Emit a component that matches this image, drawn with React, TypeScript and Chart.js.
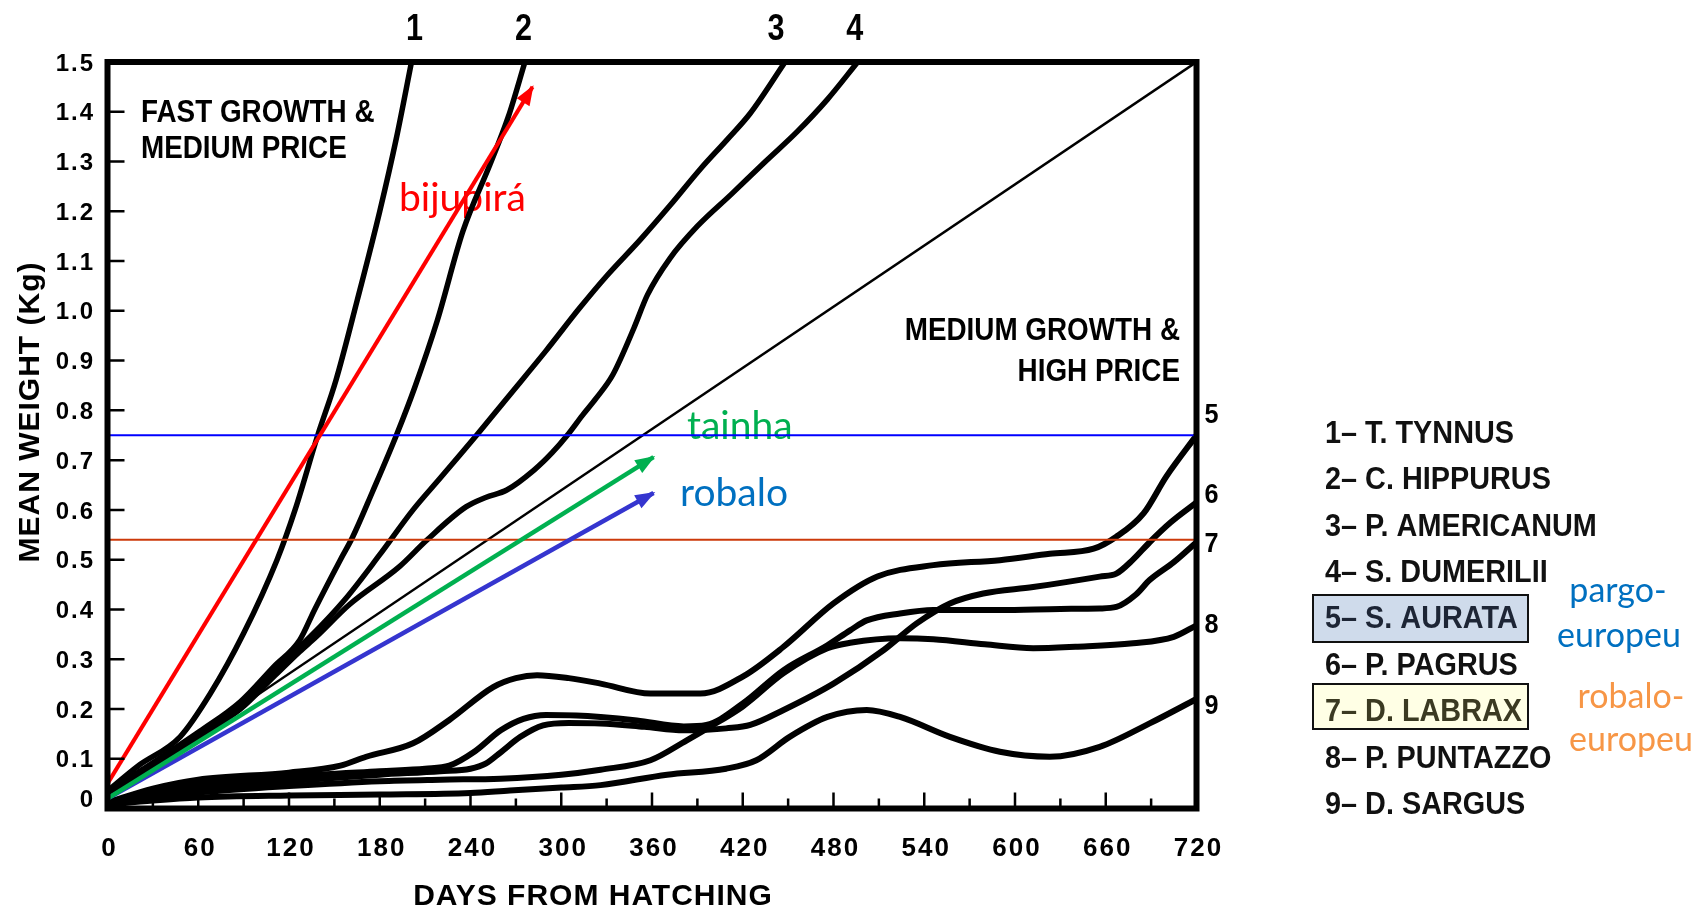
import React, { useEffect, useRef } from "react";
import { Chart, registerables } from "chart.js";

Chart.register(...registerables);

type Pt = [number, number];

// ---------- axis ticks ----------
const xTickDays = [0, 60, 120, 180, 240, 300, 360, 420, 480, 540, 600, 660, 720];
const yTickWeights = [0, 0.1, 0.2, 0.3, 0.4, 0.5, 0.6, 0.7, 0.8, 0.9, 1.0, 1.1, 1.2, 1.3, 1.4, 1.5];
const yTickLabels = ["0", "0.1", "0.2", "0.3", "0.4", "0.5", "0.6", "0.7", "0.8", "0.9", "1.0", "1.1", "1.2", "1.3", "1.4", "1.5"];

// ---------- growth curves (day, kg) ----------
const tThynnus: Pt[] = [[0, 0.035], [20, 0.085], [48, 0.144], [68, 0.231], [90, 0.352], [112, 0.499], [124, 0.6], [139, 0.75], [151, 0.86], [165, 1.02], [180, 1.2], [191, 1.347], [201, 1.5]];
const cHippurus: Pt[] = [[0, 0.032], [20, 0.072], [40, 0.112], [61, 0.155], [88, 0.215], [110, 0.285], [127, 0.338], [137, 0.4], [154, 0.5], [162, 0.545], [175, 0.635], [191, 0.75], [203, 0.845], [218, 0.98], [235, 1.16], [253, 1.295], [265, 1.39], [276, 1.5]];
const pAmericanum: Pt[] = [[0, 0.03], [20, 0.068], [40, 0.106], [61, 0.15], [88, 0.207], [110, 0.275], [127, 0.325], [134, 0.345], [157, 0.42], [180, 0.51], [202, 0.6], [220, 0.664], [244, 0.75], [264, 0.824], [290, 0.92], [312, 1.005], [330, 1.07], [352, 1.142], [372, 1.212], [392, 1.285], [410, 1.345], [425, 1.397], [448, 1.5]];
const sDumerilii: Pt[] = [[0, 0.028], [20, 0.064], [40, 0.1], [61, 0.145], [88, 0.2], [110, 0.265], [127, 0.315], [138, 0.345], [160, 0.41], [193, 0.486], [211, 0.539], [237, 0.606], [250, 0.625], [264, 0.64], [282, 0.68], [294, 0.715], [304, 0.75], [314, 0.79], [323, 0.824], [334, 0.871], [348, 0.965], [357, 1.032], [372, 1.106], [390, 1.17], [412, 1.233], [435, 1.3], [456, 1.36], [476, 1.425], [496, 1.5]];
const sAurata: Pt[] = [[0, 0.012], [30, 0.04], [60, 0.058], [120, 0.072], [154, 0.086], [171, 0.104], [202, 0.131], [226, 0.178], [255, 0.244], [270, 0.262], [284, 0.268], [305, 0.262], [326, 0.251], [359, 0.231], [392, 0.231], [420, 0.265], [447, 0.325], [480, 0.412], [509, 0.466], [546, 0.489], [590, 0.499], [623, 0.512], [652, 0.522], [667, 0.546], [685, 0.593], [700, 0.667], [720, 0.75]];
const pPagrus: Pt[] = [[0, 0.012], [30, 0.028], [60, 0.04], [120, 0.055], [180, 0.068], [220, 0.075], [240, 0.08], [250, 0.09], [260, 0.113], [273, 0.144], [288, 0.167], [305, 0.172], [326, 0.171], [355, 0.164], [381, 0.157], [396, 0.158], [409, 0.161], [425, 0.168], [447, 0.198], [480, 0.251], [513, 0.318], [535, 0.372], [557, 0.412], [579, 0.432], [612, 0.445], [656, 0.466], [667, 0.472], [678, 0.5], [689, 0.535], [703, 0.575], [720, 0.615]];
const dLabrax: Pt[] = [[0, 0.012], [30, 0.032], [60, 0.048], [120, 0.064], [180, 0.075], [210, 0.08], [226, 0.086], [243, 0.115], [260, 0.157], [275, 0.18], [290, 0.188], [310, 0.187], [326, 0.184], [350, 0.177], [381, 0.165], [396, 0.168], [420, 0.211], [447, 0.278], [476, 0.328], [491, 0.358], [502, 0.378], [524, 0.392], [546, 0.399], [590, 0.399], [630, 0.401], [656, 0.402], [667, 0.405], [680, 0.43], [689, 0.459], [705, 0.495], [720, 0.535]];
const pPuntazzo: Pt[] = [[0, 0.01], [30, 0.022], [60, 0.032], [120, 0.045], [180, 0.055], [220, 0.058], [260, 0.06], [300, 0.068], [326, 0.078], [359, 0.097], [383, 0.137], [396, 0.16], [420, 0.205], [447, 0.272], [476, 0.322], [491, 0.333], [524, 0.342], [546, 0.34], [580, 0.33], [612, 0.322], [640, 0.325], [678, 0.332], [705, 0.345], [720, 0.368]];
const dSargus: Pt[] = [[0, 0.008], [30, 0.016], [60, 0.022], [120, 0.026], [180, 0.028], [240, 0.031], [266, 0.036], [300, 0.042], [326, 0.047], [370, 0.068], [409, 0.08], [429, 0.097], [451, 0.144], [476, 0.184], [502, 0.198], [524, 0.184], [557, 0.144], [590, 0.114], [623, 0.104], [656, 0.124], [689, 0.171], [720, 0.22]];

// thin separating diagonal
const dividerLine: Pt[] = [[0, 0.025], [720, 1.5]];

// coloured arrows
const bijupiraArrow: Pt[] = [[0, 0.05], [281, 1.45]];
const tainhaArrow: Pt[] = [[0, 0.02], [361, 0.706]];
const robaloArrow: Pt[] = [[0, 0.02], [361, 0.634]];

// horizontal reference levels (kg)
const blueLevel: Pt[] = [[0, 0.75], [720, 0.75]];
const redLevel: Pt[] = [[0, 0.54], [720, 0.54]];

// curve number labels
const topLabels = ["1", "2", "3", "4"];
const topLabelDays = [203, 275, 442, 494];
const rightLabels = ["5", "6", "7", "8", "9"];
const rightLabelWeights = [0.795, 0.634, 0.535, 0.373, 0.21];

const speciesList = [
  "1\u2013 T. TYNNUS",
  "2\u2013 C. HIPPURUS",
  "3\u2013 P. AMERICANUM",
  "4\u2013 S. DUMERILII",
  "5\u2013 S. AURATA",
  "6\u2013 P. PAGRUS",
  "7\u2013 D. LABRAX",
  "8\u2013 P. PUNTAZZO",
  "9\u2013 D. SARGUS",
];

const BOLD = '"Liberation Sans", Arial, Helvetica, sans-serif';
const SOFT = 'Lato, "Open Sans", "Noto Sans", sans-serif';

type TxtOpts = {
  font: string;
  color?: string;
  align?: CanvasTextAlign;
  baseline?: CanvasTextBaseline;
  scaleX?: number;
  spacing?: number;
  rotate?: number;
};

function txt(ctx: CanvasRenderingContext2D, s: string, x: number, y: number, o: TxtOpts) {
  ctx.save();
  ctx.translate(x, y);
  if (o.rotate) ctx.rotate(o.rotate);
  ctx.scale(o.scaleX ?? 1, 1);
  ctx.font = o.font;
  (ctx as any).letterSpacing = `${o.spacing ?? 0}px`;
  ctx.fillStyle = o.color ?? "#000";
  ctx.textAlign = o.align ?? "left";
  ctx.textBaseline = o.baseline ?? "alphabetic";
  ctx.fillText(s, 0, 0);
  ctx.restore();
}

const toXY = (pts: Pt[]) => pts.map(([x, y]) => ({ x, y }));

const annotationPlugin = {
  id: "fishAnnotations",
  beforeDatasetsDraw(chart: any) {
    const ctx: CanvasRenderingContext2D = chart.ctx;
    const region = `bold 32px ${BOLD}`;
    txt(ctx, "FAST GROWTH &", 141, 121.5, { font: region, scaleX: 0.87 });
    txt(ctx, "MEDIUM PRICE", 141, 157.5, { font: region, scaleX: 0.87 });
    txt(ctx, "MEDIUM GROWTH &", 1180, 339.5, { font: region, scaleX: 0.87, align: "right" });
    txt(ctx, "HIGH PRICE", 1180, 380.5, { font: region, scaleX: 0.87, align: "right" });

    txt(ctx, "bijupirá", 399, 211, { font: `39px ${SOFT}`, color: "#FF0000" });
    txt(ctx, "tainha", 687, 439, { font: `39px ${SOFT}`, color: "#00B050" });
    txt(ctx, "robalo", 680, 506, { font: `39px ${SOFT}`, color: "#0070C0" });
  },
  afterDatasetsDraw(chart: any) {
    const ctx: CanvasRenderingContext2D = chart.ctx;
    const xs = chart.scales.x;
    const ys = chart.scales.y;
    const { left, right, top, bottom } = chart.chartArea;

    // arrow heads
    const arrows: [Pt[], string][] = [
      [bijupiraArrow, "#FF0000"],
      [tainhaArrow, "#00B050"],
      [robaloArrow, "#3535CF"],
    ];
    arrows.forEach(([pts, color]) => {
      const x0 = xs.getPixelForValue(pts[0][0]);
      const y0 = ys.getPixelForValue(pts[0][1]);
      const x1 = xs.getPixelForValue(pts[1][0]);
      const y1 = ys.getPixelForValue(pts[1][1]);
      const a = Math.atan2(y1 - y0, x1 - x0);
      const c = Math.cos(a);
      const s = Math.sin(a);
      const tx = x1 + c * 2;
      const ty = y1 + s * 2;
      const L = 20;
      const W = 7.5;
      const bx = tx - c * L;
      const by = ty - s * L;
      ctx.save();
      ctx.fillStyle = color;
      ctx.beginPath();
      ctx.moveTo(tx, ty);
      ctx.lineTo(bx - s * W, by + c * W);
      ctx.lineTo(bx + s * W, by - c * W);
      ctx.closePath();
      ctx.fill();
      ctx.restore();
    });

    // frame
    ctx.save();
    ctx.strokeStyle = "#000";
    ctx.lineWidth = 6;
    ctx.lineJoin = "miter";
    ctx.strokeRect(left, top, right - left, bottom - top);

    // inward ticks
    ctx.lineWidth = 2.5;
    ctx.beginPath();
    yTickWeights.forEach((v) => {
      if (v <= 0 || v >= 1.5) return;
      const y = ys.getPixelForValue(v);
      ctx.moveTo(left, y);
      ctx.lineTo(left + 17, y);
    });
    for (let d = 30; d < 720; d += 30) {
      const x = xs.getPixelForValue(d);
      const len = d % 60 === 0 ? 16 : 10;
      ctx.moveTo(x, bottom);
      ctx.lineTo(x, bottom - len);
    }
    ctx.stroke();
    ctx.restore();

    // tick labels
    yTickWeights.forEach((v, i) => {
      let y = ys.getPixelForValue(v);
      if (v === 0) y -= 10;
      txt(ctx, yTickLabels[i], 95, y + 8.6, { font: `bold 24px ${BOLD}`, align: "right", spacing: 2 });
    });
    xTickDays.forEach((d) => {
      const x = xs.getPixelForValue(d);
      txt(ctx, String(d), x + 2, 855.5, { font: `bold 26px ${BOLD}`, align: "center", spacing: 2 });
    });

    // axis titles
    txt(ctx, "DAYS FROM HATCHING", 593, 904.5, { font: `bold 30px ${BOLD}`, align: "center", spacing: 1 });
    txt(ctx, "MEAN WEIGHT (Kg)", 38.7, 412, {
      font: `bold 30px ${BOLD}`,
      align: "center",
      spacing: 1,
      rotate: -Math.PI / 2,
    });

    // curve numbers
    topLabels.forEach((s, i) => {
      const x = xs.getPixelForValue(topLabelDays[i]);
      txt(ctx, s, x, 40, { font: `bold 36px ${BOLD}`, align: "center", scaleX: 0.85 });
    });
    rightLabels.forEach((s, i) => {
      const y = ys.getPixelForValue(rightLabelWeights[i]);
      txt(ctx, s, right + 15, y + 10, { font: `bold 28px ${BOLD}`, align: "center", scaleX: 0.9 });
    });

    // species legend
    ctx.save();
    ctx.lineWidth = 2;
    ctx.strokeStyle = "#111";
    ctx.fillStyle = "#CFDBEB";
    ctx.fillRect(1313, 595, 215, 47);
    ctx.strokeRect(1313, 595, 215, 47);
    ctx.fillStyle = "#FFFFE5";
    ctx.fillRect(1313, 684, 215, 45);
    ctx.strokeRect(1313, 684, 215, 45);
    ctx.restore();
    speciesList.forEach((s, i) => {
      const cy = 431.7 + i * 46.4;
      const color = i === 4 ? "#1d2535" : i === 6 ? "#3b3a22" : "#111";
      txt(ctx, s, 1325, cy + 11, { font: `bold 31px ${BOLD}`, scaleX: 0.93, color });
    });

    // common names
    txt(ctx, "pargo-", 1618, 602, { font: `34px ${SOFT}`, color: "#0070C0", align: "center" });
    txt(ctx, "europeu", 1619, 647, { font: `34px ${SOFT}`, color: "#0070C0", align: "center" });
    txt(ctx, "robalo-", 1631, 708, { font: `34px ${SOFT}`, color: "#F79646", align: "center" });
    txt(ctx, "europeu", 1631, 751, { font: `34px ${SOFT}`, color: "#F79646", align: "center" });
  },
};

export default function App() {
  const canvasRef = useRef<HTMLCanvasElement | null>(null);

  useEffect(() => {
    if (!canvasRef.current) return;

    const curve = (label: string, pts: Pt[], width: number) => ({
      label,
      data: toXY(pts),
      borderColor: "#000",
      borderWidth: width,
      pointRadius: 0,
      fill: false,
      cubicInterpolationMode: "monotone" as const,
      borderCapStyle: "round" as const,
      borderJoinStyle: "round" as const,
      order: 3,
    });
    const straight = (label: string, pts: Pt[], color: string, width: number, order: number) => ({
      label,
      data: toXY(pts),
      borderColor: color,
      borderWidth: width,
      pointRadius: 0,
      fill: false,
      tension: 0,
      borderCapStyle: "butt" as const,
      order,
    });

    const chart = new Chart(canvasRef.current, {
      type: "line",
      data: {
        datasets: [
          straight("bijupirá", bijupiraArrow, "#FF0000", 4, 0),
          straight("tainha", tainhaArrow, "#00B050", 4.5, 0),
          straight("robalo", robaloArrow, "#3535CF", 4.5, 0),
          straight("0.75 kg", blueLevel, "#0000FF", 2, 1),
          straight("0.54 kg", redLevel, "#CC3A0A", 2, 1),
          straight("divider", dividerLine, "#000", 2.5, 2),
          curve("T. thynnus", tThynnus, 5.5),
          curve("C. hippurus", cHippurus, 5.5),
          curve("P. americanum", pAmericanum, 5.5),
          curve("S. dumerilii", sDumerilii, 5.5),
          curve("S. aurata", sAurata, 6),
          curve("P. pagrus", pPagrus, 6),
          curve("D. labrax", dLabrax, 6),
          curve("P. puntazzo", pPuntazzo, 6),
          curve("D. sargus", dSargus, 6),
        ] as any,
      },
      options: {
        responsive: false,
        animation: false,
        events: [],
        layout: { padding: { left: 107.5, top: 62, right: 502.5, bottom: 99.5 } },
        plugins: {
          legend: { display: false },
          tooltip: { enabled: false },
          title: { display: false },
        },
        scales: {
          x: { type: "linear", min: 0, max: 720, display: false },
          y: { type: "linear", min: 0, max: 1.5, display: false },
        },
        elements: { point: { radius: 0 } },
      },
      plugins: [annotationPlugin],
    });

    return () => chart.destroy();
  }, []);

  return (
    <div style={{ position: "absolute", left: 0, top: 0, width: 1699, height: 908, background: "#fff" }}>
      <canvas ref={canvasRef} width={1699} height={908} style={{ display: "block" }} />
    </div>
  );
}
